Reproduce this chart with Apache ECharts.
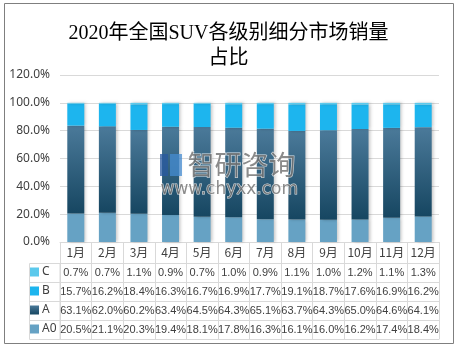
<!DOCTYPE html>
<html>
<head>
<meta charset="utf-8">
<script src="https://cdn.jsdelivr.net/npm/echarts@6/dist/echarts.min.js"></script>
<style>
  html, body { margin: 0; padding: 0; background: #fff; }
  #main { width: 457px; height: 351px; }
</style>
</head>
<body>
<div id="main"></div>
<script>
// 月份
var months = ['1月','2月','3月','4月','5月','6月','7月','8月','9月','10月','11月','12月'];
// 各级别占比(%)
var valC  = [0.7, 0.7, 1.1, 0.9, 0.7, 1.0, 0.9, 1.1, 1.0, 1.2, 1.1, 1.3];
var valB  = [15.7, 16.2, 18.4, 16.3, 16.7, 16.9, 17.7, 19.1, 18.7, 17.6, 16.9, 16.2];
var valA  = [63.1, 62.0, 60.2, 63.4, 64.5, 64.3, 65.1, 63.7, 64.3, 65.0, 64.6, 64.1];
var valA0 = [20.5, 21.1, 20.3, 19.4, 18.1, 17.8, 16.3, 16.1, 16.0, 16.2, 17.4, 18.4];
var yTicks = [0, 20, 40, 60, 80, 100, 120];

var lineColor = '#d9d9d9';
var txtColor = '#404040';
var cellFont = 'Liberation Sans';

var colA0 = '#66a2c4';
var colA = new echarts.graphic.LinearGradient(0, 0, 0, 1, [
  { offset: 0, color: '#4b7a9a' },
  { offset: 1, color: '#164661' }
]);
var colB = '#1db5ee';
var colC = '#5bc9ec';

var myChart = echarts.init(document.getElementById('main'));

function pct(v) { return v.toFixed(1) + '%'; }

// 表格中的一行，用一条x轴来画
function rowAxis(vals, offset) {
  return {
    type: 'category',
    gridIndex: 0,
    position: 'bottom',
    offset: offset,
    data: months,
    axisLine: { show: true, lineStyle: { color: lineColor, width: 1 } },
    axisTick: { show: false },
    axisLabel: {
      show: vals != null,
      margin: 4,
      interval: 0,
      fontSize: 11,
      fontFamily: cellFont,
      color: txtColor,
      formatter: function (v, i) { return vals ? pct(vals[i]) : ''; }
    },
    splitLine: { show: false }
  };
}

var barShadow = {
  shadowColor: 'rgba(0,0,0,0.22)',
  shadowBlur: 3,
  shadowOffsetX: 2
};

var option = {
  animation: false,
  title: {
    text: '2020年全国SUV各级别细分市场销量\n占比',
    left: 'center',
    top: 16,
    textStyle: {
      fontSize: 20,
      lineHeight: 25,
      fontWeight: 'normal',
      fontFamily: 'Liberation Serif, Noto Sans CJK SC',
      color: '#000'
    }
  },
  legend: [
    { data: ['C'],  left: 30, top: 266 },
    { data: ['B'],  left: 30, top: 285 },
    { data: ['A'],  left: 30, top: 304 },
    { data: ['A0'], left: 30, top: 323 }
  ].map(function (l) {
    l.itemWidth = 9; l.itemHeight = 9; l.itemGap = 0; l.padding = 0;
    l.icon = 'rect';
    l.textStyle = { fontSize: 12, color: txtColor, fontFamily: 'Noto Sans' , padding: [0, 0, 0, -2] };
    return l;
  }),
  grid: { left: 60, right: 18, top: 75, bottom: 109 },
  xAxis: [
    {
      type: 'category',
      data: months,
      boundaryGap: true,
      axisLine: { show: true, lineStyle: { color: lineColor } },
      axisTick: { show: true, length: 97, lineStyle: { color: lineColor } },
      axisLabel: {
        margin: 4, interval: 0, fontSize: 12,
        fontFamily: 'Noto Sans CJK SC', color: txtColor
      }
    },
    rowAxis(valC, 21),
    rowAxis(valB, 40),
    rowAxis(valA, 59),
    rowAxis(valA0, 78),
    rowAxis(null, 97)
  ],
  yAxis: {
    type: 'value',
    min: yTicks[0],
    max: yTicks[yTicks.length - 1],
    interval: 20,
    axisLine: { show: false },
    axisTick: { show: false },
    axisLabel: {
      margin: 10, fontSize: 12, fontFamily: 'Noto Sans', color: txtColor,
      formatter: function (v) { return pct(v); }
    },
    splitLine: { lineStyle: { color: lineColor } }
  },
  series: [
    { name: 'A0', type: 'bar', stack: 'all', barWidth: 17, data: valA0,
      itemStyle: Object.assign({ color: colA0 }, barShadow) },
    { name: 'A', type: 'bar', stack: 'all', barWidth: 17, data: valA,
      itemStyle: Object.assign({ color: colA }, barShadow) },
    { name: 'B', type: 'bar', stack: 'all', barWidth: 17, data: valB,
      itemStyle: Object.assign({ color: colB }, barShadow) },
    { name: 'C', type: 'bar', stack: 'all', barWidth: 17, data: valC,
      itemStyle: Object.assign({ color: colC }, barShadow) }
  ],
  graphic: [
    // 外框
    { type: 'rect', shape: { x: 4.5, y: 3.5, width: 449, height: 340 },
      style: { fill: 'none', stroke: '#7f7f7f', lineWidth: 1 }, z: 100 },
    // 表格左侧图例列
    { type: 'rect', shape: { x: 29.5, y: 263.5, width: 30.5, height: 76 },
      style: { fill: 'none', stroke: lineColor, lineWidth: 1 } },
    { type: 'line', shape: { x1: 29.5, y1: 282.5, x2: 60, y2: 282.5 }, style: { stroke: lineColor } },
    { type: 'line', shape: { x1: 29.5, y1: 301.5, x2: 60, y2: 301.5 }, style: { stroke: lineColor } },
    { type: 'line', shape: { x1: 29.5, y1: 320.5, x2: 60, y2: 320.5 }, style: { stroke: lineColor } },
    // 水印
    { type: 'rect', shape: { x: 160, y: 154, width: 8, height: 22 },
      style: { fill: 'rgba(40,90,160,0.75)' }, z: 50 },
    { type: 'rect', shape: { x: 170, y: 154, width: 12, height: 22 },
      style: { fill: 'rgba(70,140,210,0.75)' }, z: 50 },
    { type: 'text', left: 187, top: 151, z: 50,
      style: { text: '智研咨询', fontSize: 27, fontFamily: 'Noto Sans CJK SC',
        fill: 'rgba(110,110,110,0.8)', stroke: 'rgba(255,255,255,0.8)', lineWidth: 1 } },
    { type: 'text', left: 160, top: 181, z: 50,
      style: { text: 'www.chyxx.com', fontSize: 17, fontFamily: 'DejaVu Sans',
        fill: 'rgba(110,110,110,0.8)', stroke: 'rgba(255,255,255,0.8)', lineWidth: 1 } }
  ]
};

myChart.setOption(option);
</script>
</body>
</html>
